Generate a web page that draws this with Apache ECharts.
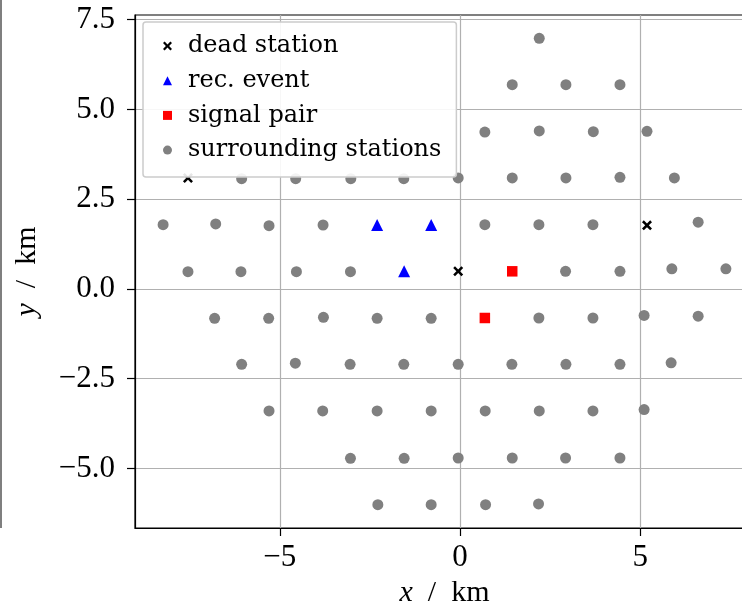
<!DOCTYPE html>
<html>
<head>
<meta charset="utf-8">
<script src="https://cdn.jsdelivr.net/npm/echarts@6/dist/echarts.min.js"></script>
<style>html,body{margin:0;padding:0;background:#fff}#charts{width:742px;height:610px}</style>
</head>
<body>
<div id="charts"></div>
<script>
var myChart = echarts.init(document.getElementById('charts'));

// station positions in km, [x, y]
var deadStations = [[-7.55, 3.09], [-0.05, 0.49], [5.19, 1.77]];
var recEvent = [[-2.30, 1.78], [-0.80, 1.78], [-1.55, 0.49]];
var signalPair = [[1.45, 0.49], [0.69, -0.81]];
var surrounding = [
	[2.20, 6.98],
	[1.45, 5.69], [2.94, 5.69], [4.44, 5.69],
	[0.69, 4.37], [2.20, 4.40], [3.70, 4.38], [5.19, 4.39],
	[-6.06, 3.07], [-4.56, 3.07], [-3.03, 3.07], [-1.56, 3.07], [-0.05, 3.09], [1.45, 3.09], [2.94, 3.09], [4.44, 3.11], [5.95, 3.09],
	[-8.24, 1.79], [-6.78, 1.81], [-5.30, 1.76], [-3.80, 1.78], [0.69, 1.79], [2.19, 1.79], [3.69, 1.79], [6.61, 1.86],
	[-7.55, 0.48], [-6.08, 0.48], [-4.54, 0.48], [-3.04, 0.48], [2.93, 0.49], [4.44, 0.49], [5.88, 0.56], [7.38, 0.56],
	[-6.81, -0.82], [-5.31, -0.82], [-3.79, -0.79], [-2.30, -0.82], [-0.80, -0.82], [2.19, -0.81], [3.69, -0.81], [5.11, -0.74], [6.61, -0.76],
	[-6.06, -2.10], [-4.57, -2.07], [-3.05, -2.10], [-1.56, -2.10], [-0.05, -2.10], [1.44, -2.10], [2.94, -2.10], [4.44, -2.10], [5.86, -2.06],
	[-5.30, -3.40], [-3.81, -3.40], [-2.30, -3.40], [-0.80, -3.40], [0.70, -3.40], [2.20, -3.40], [3.69, -3.40], [5.11, -3.36],
	[-3.04, -4.72], [-1.55, -4.72], [-0.05, -4.71], [1.45, -4.71], [2.93, -4.71], [4.44, -4.71],
	[-2.28, -6.01], [-0.80, -6.01], [0.71, -6.01], [2.18, -5.99]
];
var xTicks = [-5, 0, 5];
var yTicks = [-5, -2.5, 0, 2.5, 5, 7.5];
var legendNames = ['dead station', 'rec. event', 'signal pair', 'surrounding stations'];

var serif = 'Liberation Serif';
var crossPath = 'path://M1.8,0 L5,3.2 L8.2,0 L10,1.8 L6.8,5 L10,8.2 L8.2,10 L5,6.8 L1.8,10 L0,8.2 L3.2,5 L0,1.8 Z';

function fmt(v, digits){
	return (v < 0 ? '\u2212' : '') + Math.abs(v).toFixed(digits);
}

function axisBase(ticks, digits){
	return {
		type: 'value',
		axisLine: {show: true, onZero: false, lineStyle: {color: '#000', width: 1.2}},
		axisTick: {show: true, customValues: ticks, length: 8, lineStyle: {color: '#000', width: 1.2}},
		axisLabel: {
			customValues: ticks,
			fontFamily: serif, fontSize: 31, color: '#000',
			formatter: function(v){ return fmt(v, digits); }
		},
		splitLine: {show: true, lineStyle: {color: '#b0b0b0', width: 1.2}},
		nameLocation: 'middle',
		nameTextStyle: {
			fontFamily: serif, fontSize: 30, color: '#000',
			rich: {i: {fontFamily: serif, fontSize: 30, fontStyle: 'italic', color: '#000'}}
		}
	};
}

var xAxis = axisBase(xTicks, 0);
xAxis.min = -9.02;
xAxis.max = 8.16;
xAxis.axisLabel.margin = 14;
xAxis.name = '{i|x}  /  km';
xAxis.nameGap = 44;

var yAxis = axisBase(yTicks, 1);
yAxis.min = -6.66;
yAxis.max = 7.63;
yAxis.axisLabel.margin = 20;
yAxis.name = '{i|y}  /  km';
yAxis.nameGap = 93;

var option = {
	animation: false,
	backgroundColor: '#fff',
	grid: {left: 135, width: 619, top: 15, height: 513, outerBoundsMode: 'none', show: true, borderColor: '#000', borderWidth: 1.2},
	xAxis: xAxis,
	yAxis: yAxis,
	legend: {
		data: legendNames,
		orient: 'vertical',
		left: 143,
		top: 22,
		padding: [12, 15, 15, 20],
		itemWidth: 9,
		itemHeight: 9,
		itemGap: 10.7,
		backgroundColor: 'rgba(255,255,255,0.9)',
		borderColor: '#cccccc',
		borderWidth: 1.5,
		borderRadius: 3,
		textStyle: {fontFamily: 'DejaVu Serif', fontSize: 24, lineHeight: 24, color: '#000', padding: [0, 0, 0, 11]}
	},
	graphic: [{
		type: 'line',
		shape: {x1: 1, y1: 0, x2: 1, y2: 528},
		style: {stroke: '#555', lineWidth: 1.5}
	}],
	series: [
		{name: 'surrounding stations', type: 'scatter', symbol: 'circle', symbolSize: 11, itemStyle: {color: '#808080', opacity: 1}, data: surrounding},
		{name: 'dead station', type: 'scatter', symbol: crossPath, symbolSize: 10, itemStyle: {color: '#000', opacity: 1}, data: deadStations},
		{name: 'rec. event', type: 'scatter', symbol: 'triangle', symbolSize: 12, itemStyle: {color: '#0000ff', opacity: 1}, data: recEvent},
		{name: 'signal pair', type: 'scatter', symbol: 'rect', symbolSize: 10.5, itemStyle: {color: '#ff0000', opacity: 1}, data: signalPair}
	]
};

myChart.setOption(option);
</script>
</body>
</html>
